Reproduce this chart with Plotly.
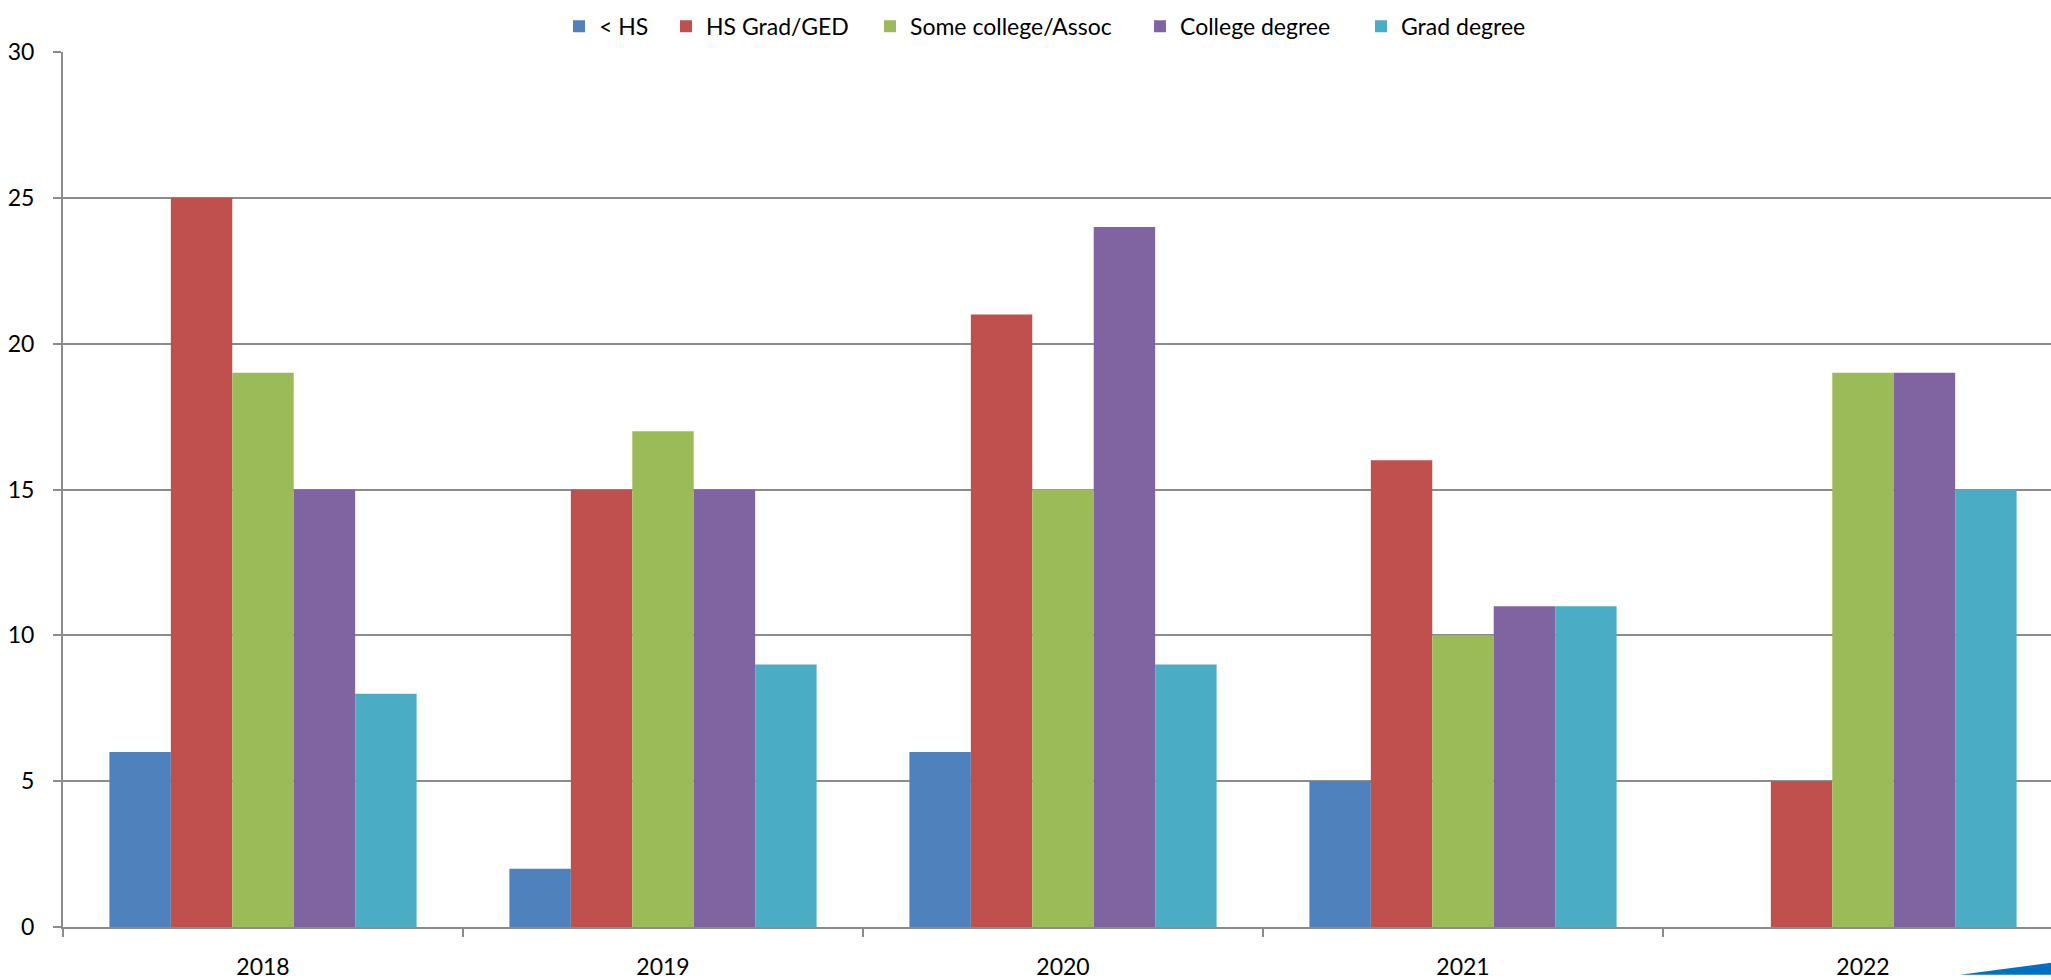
import plotly.graph_objects as go

years = ["2018", "2019", "2020", "2021", "2022"]
series_names = ["< HS", "HS Grad/GED", "Some college/Assoc", "College degree", "Grad degree"]
lt_hs = [6, 2, 6, 5, 0]
hs_grad = [25, 15, 21, 16, 5]
some_college = [19, 17, 15, 10, 19]
college = [15, 15, 24, 11, 19]
grad = [8, 9, 9, 11, 15]
colors = ["#4F81BD", "#C0504D", "#9BBB59", "#8064A2", "#4BACC6"]
legend_widths = [62, 159, 225, 176, 133]
y_ticks = [0, 5, 10, 15, 20, 25, 30]

W, H = 2051, 980
ML, MR, MT, MB = 63, 0, 52, 47
pw = W - ML - MR
ph = H - MT - MB

fig = go.Figure()
for name, vals, c, lw in zip(series_names, [lt_hs, hs_grad, some_college, college, grad], colors, legend_widths):
    fig.add_trace(go.Bar(name=name, x=years, y=vals, legendwidth=lw,
                         marker=dict(color=c, line=dict(width=0))))

grid = "#8c8c8c"
fnt = dict(family="Lato, Carlito, 'Open Sans', sans-serif", size=23, color="#000000")

def px_x(x):
    return (x - ML) / pw

def px_y(y):
    return (H - MB - y) / ph

fig.update_layout(
    width=W, height=H,
    margin=dict(l=ML, r=MR, t=MT, b=MB, pad=0),
    paper_bgcolor="white", plot_bgcolor="white",
    barmode="group", bargap=0.232, bargroupgap=0,
    font=fnt,
    showlegend=True,
    legend=dict(orientation="h", x=px_x(1049), xanchor="center", y=px_y(26), yanchor="middle",
                font=fnt, bgcolor="rgba(0,0,0,0)", traceorder="normal"),
    xaxis=dict(type="category", range=[-0.5, 4.47], tickson="boundaries", ticks="outside",
               ticklen=8, tickwidth=2, tickcolor=grid, showline=True, linecolor=grid, linewidth=2,
               showgrid=False, tickfont=fnt, ticklabelstandoff=18, zeroline=False),
    yaxis=dict(range=[0, 30], tickvals=y_ticks, ticks="outside", ticklen=8, tickwidth=2, tickcolor=grid,
               showline=True, linecolor=grid, linewidth=2, showgrid=True, gridcolor=grid, gridwidth=2,
               zeroline=False, tickfont=fnt, ticklabelstandoff=14),
    shapes=[dict(type="path", xref="paper", yref="paper",
                 path="M %f,%f L %f,%f L %f,%f Z" % (px_x(1960), px_y(981), px_x(2051), px_y(969), px_x(2051), px_y(981)),
                 fillcolor="#0070C0", line=dict(width=0), layer="above")],
)

fig.write_html("out.html", config={"displayModeBar": False},
               post_script="document.body.style.margin='0';document.body.style.overflow='hidden';")
